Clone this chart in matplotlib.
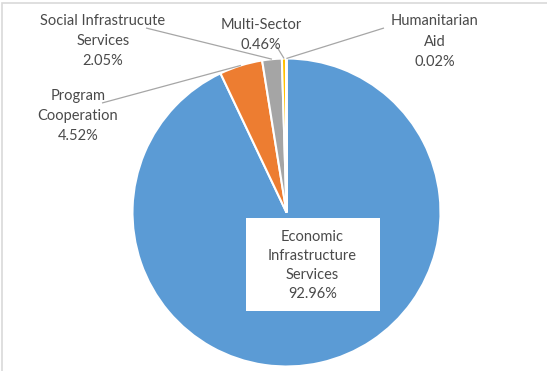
import numpy as np
import matplotlib
matplotlib.use("Agg")
import matplotlib.pyplot as plt
from matplotlib.patches import Rectangle

# Sector shares of total disbursements
categories = ["Economic Infrastructure Services", "Program Cooperation",
              "Social Infrastrucute Services", "Multi-Sector", "Humanitarian Aid"]
label_texts = ["Economic\nInfrastructure\nServices", "Program\nCooperation",
               "Social Infrastrucute\nServices", "Multi-Sector", "Humanitarian\nAid"]
shares = [92.96, 4.52, 2.05, 0.46, 0.02]
colors = ["#5B9BD5", "#ED7D31", "#A5A5A5", "#FFC000", "#4472C4"]

W, H = 547, 371
fig = plt.figure(figsize=(W / 100, H / 100), dpi=100)
ax = fig.add_axes([0, 0, 1, 1])

plt.rcParams["font.family"] = ["Lato", "DejaVu Sans"]
txt_color = "#4a4a4a"
fs = 10.5

# chart-area border (clipped at right/bottom)
ax.add_patch(Rectangle((1.5, -10), 600, H - 3 + 10, fill=False,
                       edgecolor="#D9D9D9", lw=1.2, clip_on=True))

cx, cy, r = 286.5, H - 212.5, 154
wedges, _ = ax.pie(shares, colors=colors, startangle=90, counterclock=False,
                   center=(cx, cy), radius=r, frame=True,
                   wedgeprops=dict(edgecolor="white", linewidth=1.5))
ax.set_xlim(0, W)
ax.set_ylim(0, H)
ax.set_aspect("equal")
ax.axis("off")


def edge_point(w, frac=1.0):
    ang = np.deg2rad((w.theta1 + w.theta2) / 2)
    return cx + r * frac * np.cos(ang), cy + r * frac * np.sin(ang)


def label(i):
    return f"{label_texts[i]}\n{shares[i]:.2f}%"


# Economic infrastructure: boxed label inside the pie
ax.add_patch(Rectangle((245.5, H - 310.5), 134, 92.5, facecolor="white",
                       edgecolor="none", zorder=3))
ax.text(312.5, H - 265.5, label(0), ha="center", va="center", fontsize=fs,
        color=txt_color, linespacing=1.47, zorder=4)

# Outside labels: (text centre, leader start)
outside = {
    1: ((78, H - 116), (102, H - 103)),
    2: ((103, H - 41), (146, H - 28)),
    3: ((261, H - 35), (277, H - 47)),
    4: ((435, H - 41.5), (384, H - 28)),
}
for i, ((tx, ty), (lx, ly)) in outside.items():
    ax.text(tx, ty, label(i), ha="center", va="center", fontsize=fs,
            color=txt_color, linespacing=1.55)
    ex, ey = edge_point(wedges[i], 1.0)
    ax.plot([lx, ex], [ly, ey], color="#A6A6A6", lw=0.9, solid_capstyle="butt")

fig.savefig("out.png", dpi=100)
